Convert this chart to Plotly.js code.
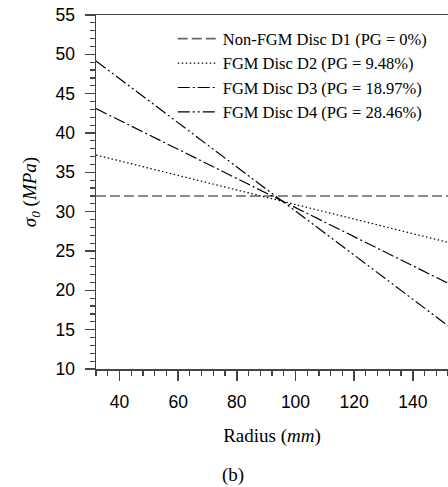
<!DOCTYPE html>
<html>
<head>
<meta charset="utf-8">
<script src="https://cdn.plot.ly/plotly-3.0.1.min.js"></script>
<style>
  html, body { margin: 0; padding: 0; background: #fff; }
  #chart { width: 448px; height: 487px; }
</style>
</head>
<body>
<div id="chart"></div>
<script>
// Radius (mm)
const radius = [32, 152];
// Hoop stress sigma_0 (MPa) for each disc
const discD1 = [32.0, 32.0];
const discD2 = [37.2, 26.1];
const discD3 = [43.1, 20.9];
const discD4 = [49.15, 15.5];
const seriesNames = [
  'Non-FGM Disc D1 (PG = 0%)',
  'FGM Disc D2 (PG = 9.48%)',
  'FGM Disc D3 (PG = 18.97%)',
  'FGM Disc D4 (PG = 28.46%)'
];
const xTickVals = [40, 60, 80, 100, 120, 140];
const yTickVals = [10, 15, 20, 25, 30, 35, 40, 45, 50, 55];

const traces = [
  {x: radius, y: discD1, name: seriesNames[0], mode: 'lines',
   line: {color: '#666', width: 1.6, dash: '10px,4px'}},
  {x: radius, y: discD2, name: seriesNames[1], mode: 'lines',
   line: {color: '#000', width: 1.2, dash: '1.5px,2.5px'}},
  {x: radius, y: discD3, name: seriesNames[2], mode: 'lines',
   line: {color: '#000', width: 1.2, dash: '12px,3px,2px,3px'}},
  {x: radius, y: discD4, name: seriesNames[3], mode: 'lines',
   line: {color: '#000', width: 1.2, dash: '12px,3px,2px,3px,2px,3px'}}
];

const layout = {
  width: 448, height: 487,
  margin: {l: 96, r: 0, t: 15, b: 118, pad: 0},
  paper_bgcolor: '#fff', plot_bgcolor: '#fff',
  showlegend: true,
  legend: {
    x: 0.218, y: 0.982, xanchor: 'left', yanchor: 'top',
    bgcolor: 'rgba(0,0,0,0)', borderwidth: 0,
    font: {family: 'Liberation Serif, Times New Roman, serif', size: 16.5, color: '#000'},
    itemwidth: 40, tracegroupgap: 0
  },
  xaxis: {
    range: [32, 152], tickvals: xTickVals, ticktext: xTickVals.map(String),
    showgrid: false, zeroline: false,
    showline: true, linecolor: '#444', linewidth: 1.5, mirror: true,
    ticks: 'outside', ticklen: 10, tickwidth: 1.5, tickcolor: '#444',
    minor: {dtick: 4, tick0: 0, ticks: 'outside', ticklen: 5, tickwidth: 1.2, tickcolor: '#444', showgrid: false},
    tickfont: {family: 'Liberation Sans, Arial, sans-serif', size: 17.5, color: '#000'},
    ticklabelstandoff: 6,
    title: {text: 'Radius (<i>mm</i>)', standoff: 18,
            font: {family: 'Liberation Serif, Times New Roman, serif', size: 19, color: '#000'}}
  },
  yaxis: {
    range: [10, 55], tickvals: yTickVals, ticktext: yTickVals.map(String),
    showgrid: false, zeroline: false,
    showline: true, linecolor: '#444', linewidth: 1.5, mirror: false,
    ticks: 'outside', ticklen: 10, tickwidth: 1.5, tickcolor: '#444',
    minor: {dtick: 1, tick0: 0, ticks: 'outside', ticklen: 5, tickwidth: 1.2, tickcolor: '#444', showgrid: false},
    tickfont: {family: 'Liberation Sans, Arial, sans-serif', size: 17.5, color: '#000'},
    ticklabelstandoff: 6,
    title: {text: '<i>σ<sub>0</sub></i> (<i>MPa</i>)', standoff: 14,
            font: {family: 'Liberation Serif, Times New Roman, serif', size: 19, color: '#000'}}
  },
  annotations: [
    {text: '(b)', xref: 'paper', yref: 'paper', x: 0.389, y: -0.299,
     xanchor: 'center', yanchor: 'middle', showarrow: false,
     font: {family: 'Liberation Serif, Times New Roman, serif', size: 19, color: '#000'}}
  ]
};

Plotly.newPlot('chart', traces, layout, {displayModeBar: false, staticPlot: true});
</script>
</body>
</html>
